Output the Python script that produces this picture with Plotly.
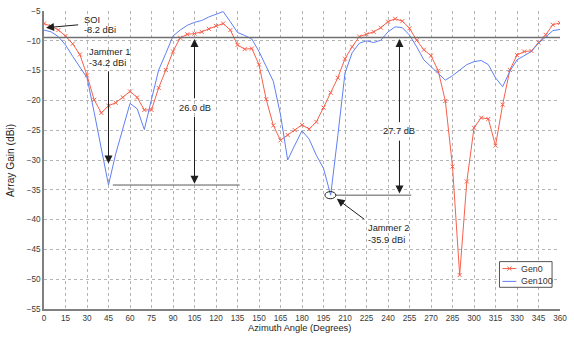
import plotly.graph_objects as go

# Azimuth sampling (degrees) and array gain of the two generations (dBi)
angles = list(range(0, 361, 5))

gen0 = [
    -7.1, -7.55, -8.2, -9.2, -10.5, -12.3, -15.8, -19.9, -22.1, -20.9,
    -20.4, -19.5, -18.5, -19.5, -21.6, -21.6, -17.9, -14.9, -11.8, -9.5,
    -8.9, -8.8, -8.5, -8.0, -7.5, -7.1, -8.2, -10.7, -11.4, -11.3,
    -14.0, -19.8, -24.2, -26.7, -25.8, -25.0, -24.1, -24.8, -23.6, -21.2,
    -18.7, -16.2, -13.0, -11.0, -9.3, -8.9, -8.5, -7.8, -6.8, -6.3,
    -6.7, -7.9, -9.9, -11.5, -12.5, -15.0, -20.1, -31.1, -49.3, -33.6,
    -24.6, -22.9, -23.1, -27.6, -20.7, -14.9, -12.4, -11.8, -11.7, -10.3,
    -9.0, -7.3, -7.0,
]

gen100 = [
    -8.2, -8.5, -9.3, -10.7, -12.6, -14.5, -16.2, -22.0, -28.1, -34.2,
    -29.0, -24.8, -20.5, -21.4, -24.9, -19.8, -14.9, -12.1, -9.2, -8.2,
    -7.4, -6.9, -6.6, -6.0, -5.5, -5.1, -6.8, -8.6, -9.1, -9.7,
    -11.8, -14.3, -16.8, -22.4, -30.0, -27.5, -25.1, -26.5, -29.2, -31.4,
    -35.9, -25.9, -15.4, -12.0, -10.4, -10.0, -10.3, -9.9, -8.5, -7.65,
    -7.8, -9.05, -11.0, -13.2, -14.3, -15.4, -16.6, -15.85, -14.85, -14.0,
    -13.5, -13.3, -14.0, -16.2, -17.7, -15.1, -13.2, -12.5, -11.8, -10.4,
    -9.3, -8.3, -8.1,
]

x_ticks = list(range(0, 361, 15))
y_ticks = list(range(-55, -4, 5))
series_names = ["Gen0", "Gen100"]

# Key levels used by the annotations
soi_level = -8.2
ref_level = -9.45
jammer1 = (45, -34.2)
jammer2 = (200, -35.9)
null_depth_1 = 26.0
null_depth_2 = 27.7

RED = "rgb(246,96,76)"
BLUE = "rgb(96,128,244)"
INK = "#1e1e1e"
LINE_GRAY = "#5a5a5a"
FONT = "Liberation Sans, Arial, sans-serif"
TXT = 9.3

fig = go.Figure()
fig.add_trace(go.Scatter(
    x=angles, y=gen0, name=series_names[0], mode="lines+markers",
    line=dict(color=RED, width=1),
    marker=dict(symbol="x-thin", size=4, line=dict(color=RED, width=1)),
    showlegend=False,
))
fig.add_trace(go.Scatter(
    x=angles, y=gen100, name=series_names[1], mode="lines",
    line=dict(color=BLUE, width=1),
    showlegend=False,
))

shapes = [
    # reference level across the whole azimuth range
    dict(type="line", xref="x", yref="y", x0=0, x1=360, y0=ref_level, y1=ref_level,
         line=dict(color="#707070", width=1.5)),
    # jammer 1 level marker
    dict(type="line", xref="x", yref="y", x0=48, x1=136.5, y0=jammer1[1], y1=jammer1[1],
         line=dict(color=LINE_GRAY, width=1)),
    # jammer 2 level marker
    dict(type="line", xref="x", yref="y", x0=203.6, x1=256.2, y0=jammer2[1], y1=jammer2[1],
         line=dict(color=LINE_GRAY, width=1)),
    # circle around jammer 2 null
    dict(type="circle", xref="x", yref="y",
         x0=jammer2[0] - 4.0, x1=jammer2[0] + 3.6,
         y0=jammer2[1] - 0.6, y1=jammer2[1] + 0.6,
         line=dict(color=INK, width=1)),
]

# Legend box in the lower-right corner of the axes
LEG_X0, LEG_X1, LEG_Y0, LEG_Y1 = 0.8827, 0.9846, 0.0728, 0.159
shapes.append(dict(type="rect", xref="paper", yref="paper",
                   x0=LEG_X0, x1=LEG_X1, y0=LEG_Y0, y1=LEG_Y1,
                   fillcolor="white", line=dict(color="#555555", width=1), layer="above"))
legend_rows = [(0.1358, RED, True), (0.0927, BLUE, False)]
for row_y, color, has_marker in legend_rows:
    shapes.append(dict(type="line", xref="paper", yref="paper",
                       x0=0.8885, x1=0.9154, y0=row_y, y1=row_y,
                       line=dict(color=color, width=1)))
    if has_marker:
        cx, dx, dy = 0.9019, 0.0040, 0.0068
        shapes.append(dict(type="line", xref="paper", yref="paper",
                           x0=cx - dx, x1=cx + dx, y0=row_y - dy, y1=row_y + dy,
                           line=dict(color=color, width=1)))
        shapes.append(dict(type="line", xref="paper", yref="paper",
                           x0=cx - dx, x1=cx + dx, y0=row_y + dy, y1=row_y - dy,
                           line=dict(color=color, width=1)))


def label(x, y, text, anchor="left"):
    return dict(x=x, y=y, xref="x", yref="y", text=text, showarrow=False,
                xanchor=anchor, yanchor="middle",
                font=dict(family=FONT, size=TXT, color=INK))


def arrow(x_tip, y_tip, x_tail, y_tail):
    return dict(x=x_tip, y=y_tip, ax=x_tail, ay=y_tail, xref="x", yref="y",
                axref="x", ayref="y", text="", showarrow=True,
                arrowhead=2, arrowsize=1.6, arrowwidth=1, arrowcolor=INK)


annotations = [
    label(26.3, -6.45, "SOI"),
    label(26.3, -8.2, f"{soi_level:.1f} dBi"),
    arrow(1.4, -7.8, 24.9, -7.3),

    label(29.9, -11.85, "Jammer 1"),
    label(29.9, -13.75, f"{jammer1[1]:.1f} dBi"),
    arrow(jammer1[0], -30.6, jammer1[0], -14.9),

    label(105, -21.2, f"{null_depth_1:.1f} dB", anchor="center"),
    arrow(105, -9.7, 105, -19.9),
    arrow(105, -34.0, 105, -22.5),

    label(248, -25.2, f"{null_depth_2:.1f} dB", anchor="center"),
    arrow(248, -9.7, 248, -23.9),
    arrow(248, -35.6, 248, -26.5),

    label(224.8, -41.45, "Jammer 2"),
    label(224.8, -43.4, f"{jammer2[1]:.1f} dBi"),
    arrow(204.3, -36.5, 224.3, -40.1),

    # axis titles
    dict(x=0.496, y=-0.063, xref="paper", yref="paper", text="Azimuth Angle (Degrees)",
         showarrow=False, xanchor="center", yanchor="middle",
         font=dict(family=FONT, size=9.3, color=INK)),
    dict(x=-0.066, y=0.5, xref="paper", yref="paper", text="Array Gain (dBi)",
         showarrow=False, xanchor="center", yanchor="middle", textangle=-90,
         font=dict(family=FONT, size=10.2, color=INK)),
]

# Legend labels
for (row_y, _, _), name in zip(legend_rows, series_names):
    annotations.append(dict(x=0.9212, y=row_y, xref="paper", yref="paper", text=name,
                            showarrow=False, xanchor="left", yanchor="middle",
                            font=dict(family=FONT, size=8.9, color="#333333")))

axis_common = dict(
    showgrid=True, gridcolor="#b4b4b4", gridwidth=1, griddash="dot",
    showline=True, linecolor="#808080", linewidth=1.5,
    zeroline=False, ticks="",
    tickfont=dict(family=FONT, size=8.2, color="#3a3a3a"),
)

fig.update_layout(
    width=574, height=338,
    margin=dict(l=44, r=10, t=7, b=29),
    paper_bgcolor="white", plot_bgcolor="white",
    font=dict(family=FONT, color=INK),
    xaxis=dict(range=[0, 360], tickvals=x_ticks, **axis_common),
    yaxis=dict(range=[-55, -5], tickvals=y_ticks, **axis_common),
    shapes=shapes,
    annotations=annotations,
    showlegend=False,
)

fig.write_html("out.html")
